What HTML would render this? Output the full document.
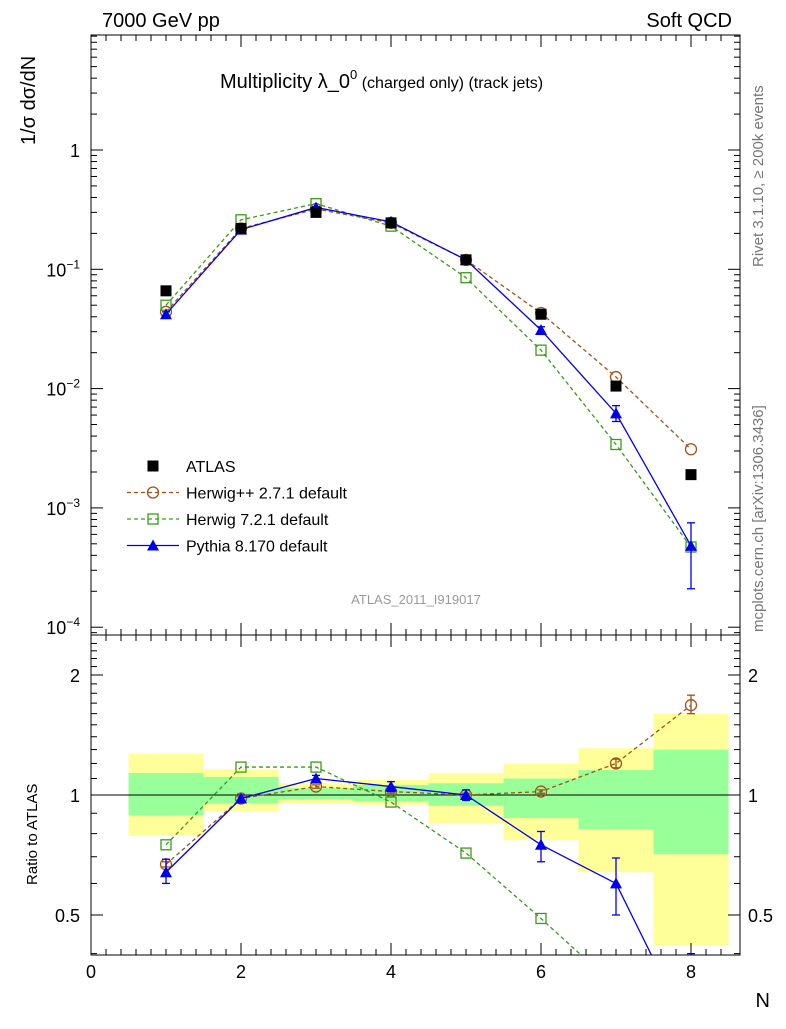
<!DOCTYPE html>
<html><head><meta charset="utf-8"><style>
body{margin:0;background:#fff;}
svg text{font-family:"Liberation Sans",sans-serif;}
</style></head><body>
<svg id="c" width="786" height="1024" xmlns="http://www.w3.org/2000/svg"></svg>
<script>
const N=[1,2,3,4,5,6,7,8];
const atlas=[0.066,0.22,0.30,0.245,0.12,0.042,0.0105,0.0019];
const hwpp=[0.044,0.22,0.32,0.245,0.12,0.043,0.0125,0.0031];
const hw7=[0.05,0.26,0.355,0.23,0.085,0.021,0.0034,0.00047];
const py=[0.042,0.215,0.33,0.25,0.12,0.031,0.0062,0.00048];
const pyLo=[0.040,0.21,0.325,0.245,0.117,0.029,0.0053,0.00021];
const pyHi=[0.044,0.22,0.335,0.255,0.123,0.033,0.0072,0.00075];
const rHwpp=[0.67,0.98,1.05,1.02,1.0,1.02,1.2,1.68];
const rHwppLo=[0.66,0.97,1.04,1.01,0.99,1.01,1.17,1.6];
const rHwppHi=[0.68,0.99,1.06,1.03,1.01,1.03,1.23,1.78];
const rHw7=[0.75,1.175,1.175,0.96,0.715,0.49,0.33,0.25];
const rPy=[0.64,0.98,1.10,1.05,1.0,0.75,0.60,0.25];
const rPyLo=[0.60,0.96,1.08,1.02,0.97,0.68,0.50,0.1];
const rPyHi=[0.69,1.0,1.12,1.08,1.03,0.81,0.695,0.4];
const yelLo=[0.79,0.91,0.955,0.945,0.85,0.77,0.64,0.42];
const yelHi=[1.27,1.16,1.07,1.09,1.135,1.2,1.31,1.6];
const grnLo=[0.89,0.955,0.975,0.965,0.94,0.875,0.82,0.71];
const grnHi=[1.135,1.11,1.04,1.06,1.07,1.1,1.155,1.3];
const xTicks=[0,2,4,6,8];
const mainTicks=[0,-1,-2,-3,-4];
const ratioTicks=[0.5,1,2];

const S=document.getElementById('c');const NS='http://www.w3.org/2000/svg';
function el(t,a,p){const e=document.createElementNS(NS,t);for(const k in a)e.setAttribute(k,a[k]);(p||S).appendChild(e);return e;}
const L=91,R=740,T=35,MB=635,RB=955;
const X=v=>L+v*75;
const Y=v=>150-Math.log10(v)*119.3;
const YR=v=>795-Math.log10(v)*398.6;

const bands=el('g',{});
N.forEach((n,i)=>{
 const x0=X(n-0.5),x1=Math.min(X(n+0.5),R-10);
 const clip=v=>Math.max(T+600,Math.min(RB,YR(v)));
 let r=el('rect',{x:x0,y:clip(yelHi[i]),width:x1-x0,height:clip(yelLo[i])-clip(yelHi[i]),fill:'#ffff99'},bands);
 
 r=el('rect',{x:x0,y:clip(grnHi[i]),width:x1-x0,height:clip(grnLo[i])-clip(grnHi[i]),fill:'#99ff99'},bands);
 
});
el('line',{x1:L,x2:R,y1:YR(1),y2:YR(1),stroke:'#000','stroke-width':1});

el('rect',{x:L,y:T,width:R-L,height:MB-T,fill:'none',stroke:'#000'});
el('rect',{x:L,y:MB,width:R-L,height:RB-MB,fill:'none',stroke:'#000'});

function txt(x,y,s,o){const t=el('text',Object.assign({x:x,y:y,'font-size':18},o||{}));t.textContent=s;return t;}
for(let v=0;v<=8.6;v+=0.2){const big=Math.abs(v-Math.round(v/2)*2)<1e-6;const len=big?12:6;
 [MB,RB].forEach(b=>{el('line',{x1:X(v),x2:X(v),y1:b,y2:b-len,stroke:'#000'});});
 [T,MB].forEach(b=>{el('line',{x1:X(v),x2:X(v),y1:b,y2:b+len,stroke:'#000'});});}
xTicks.forEach(v=>{const t=txt(X(v),978,String(v),{'text-anchor':'middle'});});
let t=txt(770,1007,'N',{'text-anchor':'end','font-size':20});
for(let d=-5;d<=1;d++)for(let m=1;m<10;m++){const v=m*Math.pow(10,d);const y=Y(v);if(y<T||y>MB)continue;const len=m==1?12:6;
 el('line',{x1:L,x2:L+len,y1:y,y2:y,stroke:'#000'});el('line',{x1:R,x2:R-len,y1:y,y2:y,stroke:'#000'});}
mainTicks.forEach(d=>{const y=Y(Math.pow(10,d));
 if(d==0){t=txt(80,y+7,'1',{'text-anchor':'end'});}
 else{t=el('text',{x:80,y:y+7,'font-size':18,'text-anchor':'end'});
  t.appendChild(document.createTextNode('10'));const s=el('tspan',{dy:-8,'font-size':12},t);s.textContent=String(d).replace('-','−');}
 });
for(let v=0.4;v<=2.5;v+=0.1){const y=YR(v);if(y<MB||y>RB)continue;const big=ratioTicks.some(r=>Math.abs(r-v)<1e-6);const len=big?12:6;
 el('line',{x1:L,x2:L+len,y1:y,y2:y,stroke:'#000'});el('line',{x1:R,x2:R-len,y1:y,y2:y,stroke:'#000'});}
ratioTicks.forEach(v=>{t=txt(80,YR(v)+7,String(v),{'text-anchor':'end'});
 t=txt(748,YR(v)+7,String(v));});

t=txt(102,27,'7000 GeV pp',{'font-size':20});
t=txt(732,27,'Soft QCD',{'font-size':20,'text-anchor':'end'});
t=el('text',{x:220,y:88,'font-size':20});
t.appendChild(document.createTextNode('Multiplicity λ_0'));let s=el('tspan',{dy:-9,'font-size':13},t);s.textContent='0';s=el('tspan',{dy:9,'font-size':16},t);s.textContent=' (charged only) (track jets)';
t=txt(0,0,'1/σ dσ/dN',{'font-size':20,transform:'translate(35,145) rotate(-90)'});
t=txt(0,0,'Ratio to ATLAS',{'font-size':15,transform:'translate(37,885) rotate(-90)'});
t=txt(0,0,'Rivet 3.1.10, ≥ 200k events',{'font-size':15,fill:'#777',transform:'translate(763,267) rotate(-90)'});
t=txt(0,0,'mcplots.cern.ch [arXiv:1306.3436]',{'font-size':15,fill:'#777',transform:'translate(763,632) rotate(-90)'});
t=txt(416,604,'ATLAS_2011_I919017',{'font-size':13,fill:'#999','text-anchor':'middle'});

function marker(type,x,y,col,g){
 if(type=='sq')return el('rect',{x:x-5.5,y:y-5.5,width:11,height:11,fill:'#000'},g);
 if(type=='circ')return el('circle',{cx:x,cy:y,r:5.5,fill:'none',stroke:col,'stroke-width':1.3},g);
 if(type=='osq')return el('rect',{x:x-5,y:y-5,width:10,height:10,fill:'none',stroke:col,'stroke-width':1.3},g);
 return el('polygon',{points:`${x},${y-6} ${x-6},${y+5} ${x+6},${y+5}`,fill:col},g);
}
function series(name,vals,yf,col,dash,type,lo,hi,clipTop,clipBot){
 const g=el('g',{});
 if(col){const cp='clip-'+name;const c=el('clipPath',{id:cp});el('rect',{x:L,y:clipTop,width:R-L,height:clipBot-clipTop},c);
  const p=el('polyline',{points:N.map((n,i)=>X(n)+','+yf(vals[i])).join(' '),fill:'none',stroke:col,'stroke-width':1.3,'stroke-dasharray':dash||'none','clip-path':`url(#${cp})`},g);
  }
 N.forEach((n,i)=>{const y=yf(vals[i]);
  if(lo){el('line',{x1:X(n),x2:X(n),y1:Math.max(clipTop,Math.min(clipBot,yf(lo[i]))),y2:yf(hi[i]),stroke:col||'#000','stroke-width':1.3},g);
   [lo[i],hi[i]].forEach(v=>{const yy=yf(v);if(yy>clipTop&&yy<clipBot)el('line',{x1:X(n)-4,x2:X(n)+4,y1:yy,y2:yy,stroke:col,'stroke-width':1.3},g);});}
  if(y<clipTop||y>clipBot)return;
  const m=marker(type,X(n),y,col,g);});
}
series('herwigpp-main',hwpp,Y,'#a0521a','4,3','circ',null,null,T,MB);
series('herwig7-main',hw7,Y,'#3a9a1a','4,3','osq',null,null,T,MB);
series('pythia-main',py,Y,'#0000ee',null,'tri',pyLo,pyHi,T,MB);
series('atlas-data',atlas,Y,null,null,'sq',null,null,T,MB);
series('herwigpp-ratio',rHwpp,YR,'#a0521a','4,3','circ',rHwppLo,rHwppHi,MB,RB);
series('herwig7-ratio',rHw7,YR,'#3a9a1a','4,3','osq',null,null,MB,RB);
series('pythia-ratio',rPy,YR,'#0000ee',null,'tri',rPyLo,rPyHi,MB,RB);

const lg=el('g',{});
const ents=[['ATLAS',null,null,'sq'],['Herwig++ 2.7.1 default','#a0521a','4,3','circ'],['Herwig 7.2.1 default','#3a9a1a','4,3','osq'],['Pythia 8.170 default','#0000ee',null,'tri']];
ents.forEach((e,i)=>{const y=466+i*26.5;const g=el('g',{},lg);
 if(e[1])el('line',{x1:127,x2:179,y1:y,y2:y,stroke:e[1],'stroke-width':1.3,'stroke-dasharray':e[2]||'none'},g);
 marker(e[3],153,y,e[1],g);const tt=txt(186,y+6,e[0],{'font-size':16});g.appendChild(tt);});
</script>
</body></html>
